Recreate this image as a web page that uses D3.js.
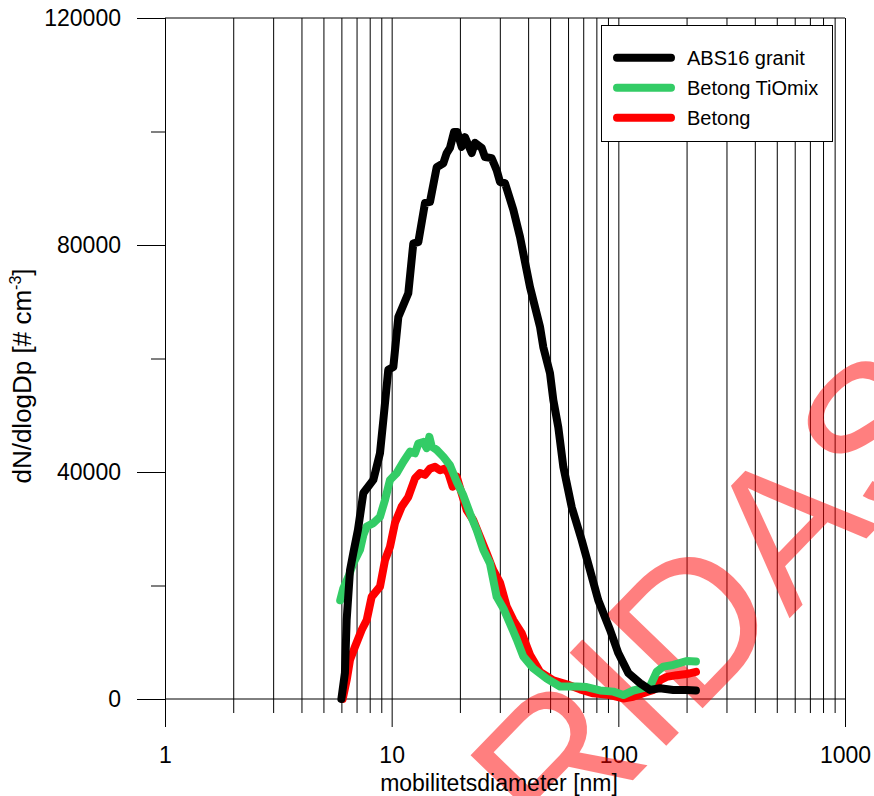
<!DOCTYPE html>
<html>
<head>
<meta charset="utf-8">
<script src="https://cdn.jsdelivr.net/npm/d3@7"></script>
<style>
  html, body { margin: 0; padding: 0; background: #fff; }
  svg { display: block; font-family: "Liberation Sans", Arial, sans-serif; }
</style>
</head>
<body>
<svg id="chart" width="874" height="796"></svg>
<script>
// Particle size distributions: mobility diameter [nm] vs dN/dlogDp [# cm^-3]
const absDiam = [6.0, 6.22, 6.33, 6.55, 6.77, 7.10, 7.50, 8.30, 8.88, 9.19, 9.66, 10.17, 10.70, 11.84, 12.46, 13.11, 14.03, 14.76, 15.80, 16.90, 17.49, 18.08, 18.84, 19.48, 20.37, 21.06, 22.55, 23.32, 24.96, 25.80, 27.63, 29.06, 30.06, 31.62, 34.41, 36.84, 40.76, 45.12, 46.67, 49.95, 51.66, 54.34, 57.20, 62.28, 68.92, 74.99, 81.56, 91.88, 99.96, 110.6, 124.6, 137.9, 152.7, 174.8, 200.3, 220];
const absValues = [0, 4600, 13900, 22700, 25700, 29800, 36300, 38600, 43300, 49200, 58000, 58500, 67300, 71500, 80300, 80500, 87400, 87600, 93700, 94400, 96200, 97100, 99900, 99900, 97300, 99000, 96200, 98000, 97100, 95500, 95300, 93200, 91100, 90900, 86200, 81400, 72600, 65600, 62000, 57400, 52700, 47900, 40900, 33800, 28000, 22700, 17400, 12200, 8100, 4600, 2800, 1600, 1900, 1600, 1600, 1500];

const tiomixDiam = [5.93, 6.12, 6.44, 6.77, 7.25, 7.50, 7.76, 8.30, 8.88, 9.35, 9.83, 10.52, 11.26, 12.05, 12.68, 13.11, 13.79, 14.27, 14.66, 15.02, 15.80, 16.90, 18.08, 19.36, 20.70, 22.16, 23.72, 25.37, 27.15, 29.06, 31.08, 33.27, 35.62, 38.07, 42.16, 48.31, 55.29, 65.52, 72.53, 83.01, 95.02, 105.2, 116.4, 128.9, 137.9, 147.7, 157.9, 174.8, 200.3, 220];
const tiomixValues = [17400, 19500, 21500, 23900, 26300, 28900, 30400, 31000, 32100, 35100, 38600, 39800, 41800, 43600, 43300, 45000, 45300, 44200, 46200, 44500, 43900, 42700, 41200, 38300, 35900, 32700, 29800, 26300, 23900, 18000, 16000, 13300, 10500, 7500, 5400, 3600, 2200, 2200, 2100, 1500, 1300, 700, 1500, 1900, 2200, 4800, 5700, 6000, 6700, 6600];

const betongDiam = [6.08, 6.33, 6.55, 6.89, 7.38, 7.76, 8.16, 8.88, 9.35, 9.83, 10.34, 11.07, 11.84, 12.68, 13.34, 14.03, 14.76, 15.53, 16.34, 17.19, 17.78, 18.59, 19.36, 20.37, 21.43, 22.92, 24.53, 26.26, 28.08, 30.06, 32.18, 34.41, 37.47, 40.76, 45.12, 51.66, 59.19, 67.75, 77.53, 91.88, 105.2, 116.4, 128.9, 142.6, 152.7, 163.5, 180.9, 200.3, 220];
const betongValues = [0, 3300, 6900, 9200, 12200, 13900, 18000, 19800, 24500, 26800, 31000, 33900, 35600, 38900, 39800, 39500, 40600, 40900, 40300, 40600, 39800, 37400, 39200, 36200, 33300, 31500, 28600, 25700, 22700, 20500, 16300, 13900, 11600, 7800, 4800, 3300, 2600, 1700, 1000, 700, 100, 400, 1000, 1600, 3300, 3900, 4200, 4400, 4800];

const seriesNames = ["ABS16 granit", "Betong TiOmix", "Betong"];
const seriesColors = ["#000000", "#33cc66", "#ff0000"];

const xMajorTicks = [1, 10, 100, 1000];
const yMajorTicks = [0, 40000, 80000, 120000];
const yMinorTicks = [20000, 60000, 100000];

const xTitle = "mobilitetsdiameter [nm]";
const watermarkText = "RIDAS";

const svg = d3.select("#chart");

const x = d3.scaleLog().domain([1, 1000]).range([165, 845]);
const y = d3.scaleLinear().domain([0, 120000]).range([699, 18]);

// every 1..9 step in each decade
const xMinorTicks = [];
for (let e = 0; e < 3; e++) {
  for (let k = 2; k <= 9; k++) xMinorTicks.push(k * Math.pow(10, e));
}

const gridStyle = g => {
  g.select(".domain").remove();
  g.selectAll(".tick line").attr("stroke", "#000").attr("stroke-width", 1);
};

// minor vertical grid lines (extend below the axis as short ticks)
svg.append("g")
  .attr("transform", "translate(0,713)")
  .call(d3.axisBottom(x).tickValues(xMinorTicks).tickSize(-(713 - 18)).tickFormat(""))
  .call(gridStyle);

// major vertical grid lines with labels
svg.append("g")
  .attr("transform", "translate(0,727)")
  .call(d3.axisBottom(x).tickValues(xMajorTicks).tickSize(-(727 - 18)).tickPadding(20).tickFormat(d3.format("d")))
  .call(gridStyle)
  .call(g => g.selectAll(".tick text")
    .attr("fill", "#000")
    .attr("font-size", 23)
    .attr("font-family", "Liberation Sans, Arial, sans-serif"));

// y axis ticks
svg.append("g")
  .attr("transform", "translate(165,0)")
  .call(d3.axisLeft(y).tickValues(yMajorTicks).tickSize(28).tickPadding(16).tickFormat(d3.format("d")))
  .call(gridStyle)
  .call(g => g.selectAll(".tick text")
    .attr("fill", "#000")
    .attr("font-size", 23)
    .attr("font-family", "Liberation Sans, Arial, sans-serif"));

svg.append("g")
  .attr("transform", "translate(165,0)")
  .call(d3.axisLeft(y).tickValues(yMinorTicks).tickSize(14).tickFormat(""))
  .call(gridStyle);

// horizontal frame lines at zero and top
[0, 120000].forEach(v => {
  svg.append("line")
    .attr("x1", x(1)).attr("x2", x(1000))
    .attr("y1", y(v)).attr("y2", y(v))
    .attr("stroke", "#000").attr("stroke-width", 1);
});

// watermark
svg.append("text")
  .attr("transform", "translate(556,860) rotate(-46)")
  .attr("font-size", 195)
  .attr("fill", "#ff0000")
  .attr("fill-opacity", 0.5)
  .attr("font-family", "Liberation Sans, Arial, sans-serif")
  .text(watermarkText);

// curves
const line = d3.line().x(d => x(d[0])).y(d => y(d[1]));
const seriesData = [
  d3.zip(absDiam, absValues),
  d3.zip(tiomixDiam, tiomixValues),
  d3.zip(betongDiam, betongValues)
];
const drawOrder = [2, 1, 0];
drawOrder.forEach(i => {
  svg.append("path")
    .datum(seriesData[i])
    .attr("d", line)
    .attr("fill", "none")
    .attr("stroke", seriesColors[i])
    .attr("stroke-width", 8)
    .attr("stroke-linejoin", "round")
    .attr("stroke-linecap", "round");
});

// legend
const legend = svg.append("g");
legend.append("rect")
  .attr("x", 601.5).attr("y", 25.5)
  .attr("width", 231).attr("height", 116)
  .attr("fill", "#fff").attr("stroke", "#000").attr("stroke-width", 1);
seriesNames.forEach((name, i) => {
  const ly = 57.7 + i * 30;
  legend.append("line")
    .attr("x1", 617).attr("x2", 671)
    .attr("y1", ly).attr("y2", ly)
    .attr("stroke", seriesColors[i])
    .attr("stroke-width", 8)
    .attr("stroke-linecap", "round");
  legend.append("text")
    .attr("x", 687).attr("y", ly)
    .attr("dy", "0.35em")
    .attr("font-size", 20)
    .attr("fill", "#000")
    .text(name);
});

// axis titles
svg.append("text")
  .attr("x", 499)
  .attr("y", 791)
  .attr("text-anchor", "middle")
  .attr("font-size", 23)
  .attr("fill", "#000")
  .text(xTitle);

const yTitle = svg.append("text")
  .attr("transform", "translate(31,376) rotate(-90)")
  .attr("text-anchor", "middle")
  .attr("font-size", 26)
  .attr("fill", "#000");
yTitle.append("tspan").text("dN/dlogDp [# cm");
yTitle.append("tspan").attr("font-size", 16).attr("dy", -10).text("-3");
yTitle.append("tspan").attr("dy", 10).text("]");
</script>
</body>
</html>
